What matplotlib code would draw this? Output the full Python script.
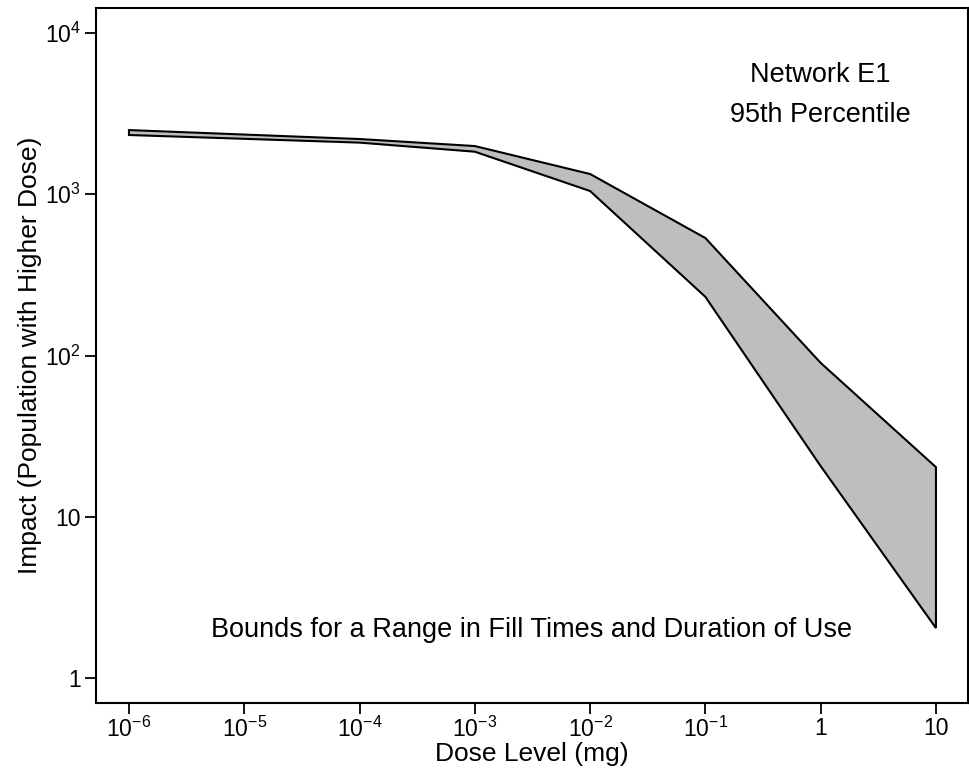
import numpy as np
import matplotlib
matplotlib.use("Agg")
import matplotlib.pyplot as plt
from matplotlib import font_manager
from matplotlib.ticker import FixedLocator, FixedFormatter, NullLocator

# the reference text looks like a tall, narrow Helvetica
names = set(f.name for f in font_manager.fontManager.ttflist)
if 'Liberation Sans Narrow' in names:
    fam = 'Liberation Sans Narrow'
    tick_fs, lab_fs, txt_fs = 19, 22.5, 23
else:
    fam = 'Liberation Sans'
    tick_fs, lab_fs, txt_fs = 16.5, 19, 19.5

plt.rcParams['font.family'] = [fam, 'DejaVu Sans']
plt.rcParams['mathtext.fontset'] = 'custom'
plt.rcParams['mathtext.rm'] = fam
plt.rcParams['mathtext.it'] = fam

# data
dose = [1e-6, 1e-4, 1e-3, 1e-2, 1e-1, 1, 10]
upper = [2500, 2200, 1990, 1335, 535, 90, 20.3]
lower = [2330, 2090, 1836, 1047, 231, 20.6, 2.04]

xticks = [1e-6, 1e-5, 1e-4, 1e-3, 1e-2, 1e-1, 1, 10]
xlabels = [r'$10^{-6}$', r'$10^{-5}$', r'$10^{-4}$', r'$10^{-3}$',
           r'$10^{-2}$', r'$10^{-1}$', '1', '10']
yticks = [1, 10, 100, 1000, 10000]
ylabels = ['1', '10', r'$10^{2}$', r'$10^{3}$', r'$10^{4}$']

fig = plt.figure(figsize=(9.69, 7.72), dpi=100)
ax = fig.add_axes([96/969, 69/772, 872/969, 695/772])

# polygon: upper curve then lower curve reversed
px = dose + dose[::-1]
py = upper + lower[::-1]
ax.fill(px, py, facecolor='#bebebe', edgecolor='black', linewidth=1.5, joinstyle='miter')

ax.set_xscale('log')
ax.set_yscale('log')
ax.set_xlim(10**-6.286, 10**1.278)
ax.set_ylim(10**-0.155, 10**4.155)

ax.xaxis.set_major_locator(FixedLocator(xticks))
ax.xaxis.set_major_formatter(FixedFormatter(xlabels))
ax.xaxis.set_minor_locator(NullLocator())
ax.yaxis.set_major_locator(FixedLocator(yticks))
ax.yaxis.set_major_formatter(FixedFormatter(ylabels))
ax.yaxis.set_minor_locator(NullLocator())

ax.tick_params(direction='out', length=8, width=1.3, labelsize=tick_fs, pad=3)
ax.tick_params(axis='x', pad=2)
for s in ax.spines.values():
    s.set_linewidth(1.5)

ax.set_xlabel('Dose Level (mg)', fontsize=lab_fs, labelpad=0)
ax.set_ylabel('Impact (Population with Higher Dose)', fontsize=lab_fs, labelpad=2)

ax.text(820/969, 1 - 75/772, 'Network E1', transform=fig.transFigure,
        ha='center', va='center', fontsize=txt_fs)
ax.text(820/969, 1 - 115/772, '95th Percentile', transform=fig.transFigure,
        ha='center', va='center', fontsize=txt_fs)
ax.text(532/969, 1 - 630/772, 'Bounds for a Range in Fill Times and Duration of Use',
        transform=fig.transFigure, ha='center', va='center', fontsize=txt_fs)

fig.savefig('out.png', dpi=100)
